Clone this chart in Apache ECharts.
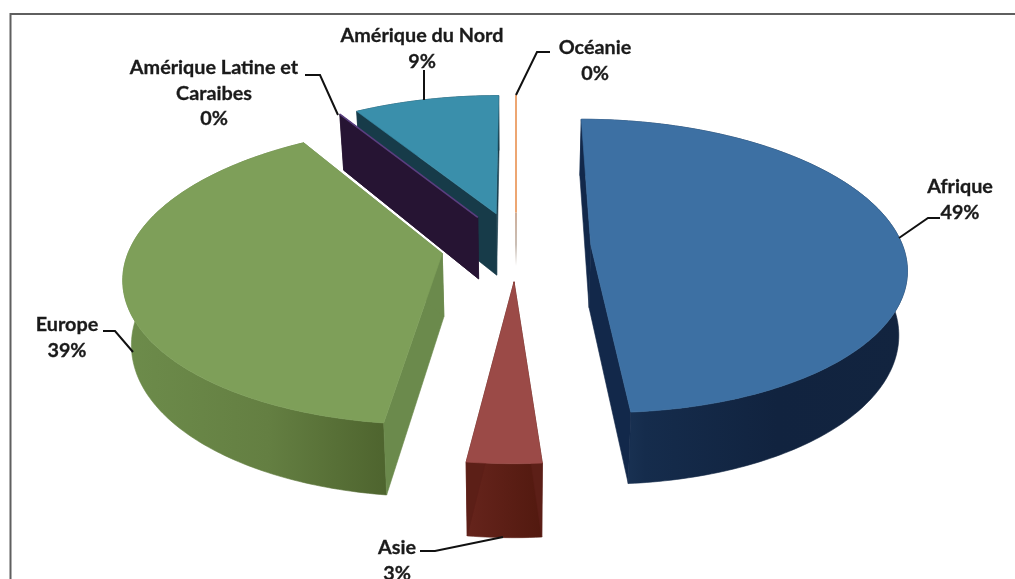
<!DOCTYPE html>
<html lang="fr">
<head>
<meta charset="utf-8">
<style>
html,body{margin:0;padding:0;background:#fff;}
#chart{width:1015px;height:579px;filter:blur(0.55px);}
</style>
<script src="https://cdn.jsdelivr.net/npm/echarts@6/dist/echarts.min.js"></script>
</head>
<body>
<div id="chart"></div>
<script>
// Data (percentages; the labels show them rounded)
const regions = ['Afrique', 'Asie', 'Europe', 'Amérique Latine et\nCaraibes', 'Amérique du Nord', 'Océanie'];
const shares = [48.8, 3.2, 39.2, 0, 8.8, 0];

// Colours, per slice
const topColors = ['#3d70a3', '#9b4a47', '#7e9f59', '#5a3f80', '#3a8fab', '#eda672'];
const cutColors = ['#12284a', '#5c1f17', '#6b8a4c', '#261433', '#173b49', '#c9a58e'];
const wallStops = [
  [[0, '#233f62'], [0.2, '#152c4c'], [0.6, '#11233f'], [1, '#12243f']],
  [[0, '#66241c'], [1, '#52190f']],
  [[0, '#6d8c4b'], [0.55, '#647f42'], [1, '#4e642e']],
  [[0, '#261433'], [1, '#261433']],
  [[0, '#173b49'], [1, '#173b49']],
  [[0, '#c9a58e'], [1, '#c9a58e']]
];

// Layout of data labels and leader lines, in page pixels
const labelAt = [[960, 187], [397, 548], [67, 325], [214, 68], [422, 36], [595, 48]];
const leaders = [
  [[899, 238], [928, 218], [940, 218]],
  [[420, 551], [435, 551], [503, 537]],
  [[103, 331], [115, 331], [133, 352]],
  [[305, 75], [320, 75], [338, 115]],
  [[424, 70], [424, 100]],
  [[550, 52], [537, 52], [516, 95]]
];

// Projection of the pie plane on the page (a tilted disc seen in perspective)
const view = {x0: 516, y0: 246, fx: 312, fy: 144, k: 0.145, explode: 0.24, depth: 63, kDepth: 0.12, floorScale: 0.978};
const total = shares.reduce((a, b) => a + b, 0);

function project(X, Y) {
  const w = 1 + view.k * Y;
  return [view.x0 + view.fx * X / w, view.y0 - view.fy * Y / w];
}
function drop(p, Y) {
  return [view.x0 + (p[0] - view.x0) * view.floorScale, p[1] + view.depth / (1 + view.kDepth * Y)];
}

function renderSlice(params, api) {
  const i = params.dataIndex;
  let before = 0;
  for (let j = 0; j < i; j++) before += shares[j];
  const a0 = before / total * Math.PI * 2;
  const a1 = (before + api.value(0)) / total * Math.PI * 2;
  const mid = (a0 + a1) / 2;
  const ex = view.explode * Math.sin(mid), ey = view.explode * Math.cos(mid);

  const rimPlane = [];
  const steps = Math.max(1, Math.ceil((a1 - a0) / (Math.PI / 180)));
  for (let s = 0; s <= steps; s++) {
    const t = a0 + (a1 - a0) * s / steps;
    rimPlane.push([Math.sin(t) + ex, Math.cos(t) + ey]);
  }
  const rimTop = rimPlane.map(p => project(p[0], p[1]));
  const rimBot = rimTop.map((p, n) => drop(p, rimPlane[n][1]));
  const apexTop = project(ex, ey);
  const apexBot = drop(apexTop, ey);
  const last = rimTop.length - 1;
  const isZero = api.value(0) === 0;
  const isLastSliver = isZero && i === shares.length - 1;
  const z2 = i === 3 ? 3 : (i === 4 ? 1 : 2);
  const children = [];

  const poly = (points, fill) => ({
    type: 'polygon', z2, shape: {points},
    style: {fill, stroke: fill, lineWidth: 0.6}
  });

  if (!isZero) {
    const stops = wallStops[i].map(s => ({offset: s[0], color: s[1]}));
    children.push(poly(rimTop.concat(rimBot.slice().reverse()),
      new echarts.graphic.LinearGradient(0, 0, 1, 0, stops)));
  }
  if (isLastSliver) {
    // A sliver seen edge-on: its inner face reads as a line that fades out.
    children.push({
      type: 'polyline', z2, shape: {points: [apexTop, [apexBot[0], apexBot[1] - 8]]},
      style: {
        fill: null, lineWidth: 1.8,
        stroke: new echarts.graphic.LinearGradient(
          apexTop[0], apexTop[1], apexTop[0], apexBot[1] - 8,
          [{offset: 0, color: cutColors[i]}, {offset: 0.6, color: '#c4b8ae'}, {offset: 1, color: '#ffffff'}],
          true)
      }
    });
  } else {
    children.push(poly([apexTop, rimTop[0], rimBot[0], apexBot], cutColors[i]));
    children.push(poly([apexTop, rimTop[last], rimBot[last], apexBot], cutColors[i]));
  }
  if (isZero) {
    children.push({
      type: 'polyline', z2, shape: {points: [apexTop, rimTop[0]]},
      style: {fill: null, stroke: topColors[i], lineWidth: isLastSliver ? 2 : 1.6}
    });
  } else {
    children.push(poly([apexTop].concat(rimTop), topColors[i]));
  }

  children.push({
    type: 'polyline', z2: 5, shape: {points: leaders[i]},
    style: {fill: null, stroke: '#111', lineWidth: 2}
  });
  const lines = (regions[i] + '\n0').split('\n').length;
  children.push({
    type: 'text', z2: 6, x: labelAt[i][0], y: labelAt[i][1] + (lines - 1) * 25.5 / 2,
    style: {
      text: regions[i] + '\n' + Math.round(api.value(0)) + '%',
      fill: '#1a1a1a', font: 'bold 19.8px Lato, sans-serif',
      stroke: '#1a1a1a', lineWidth: 0.3,
      align: 'center', verticalAlign: 'middle', lineHeight: 25.5
    }
  });
  return {type: 'group', children};
}

const chart = echarts.init(document.getElementById('chart'), null, {renderer: 'canvas'});
chart.setOption({
  animation: false,
  backgroundColor: '#ffffff',
  graphic: [{
    type: 'polyline', silent: true,
    shape: {points: [[10.5, 579], [10.5, 14], [1015, 14]]},
    style: {fill: null, stroke: '#5f5f5f', lineWidth: 2}
  }],
  series: [{
    type: 'custom',
    coordinateSystem: 'none',
    silent: true,
    renderItem: renderSlice,
    data: regions.map((name, i) => ({name: name.replace('\n', ' '), value: shares[i]}))
  }]
});
</script>
</body>
</html>
